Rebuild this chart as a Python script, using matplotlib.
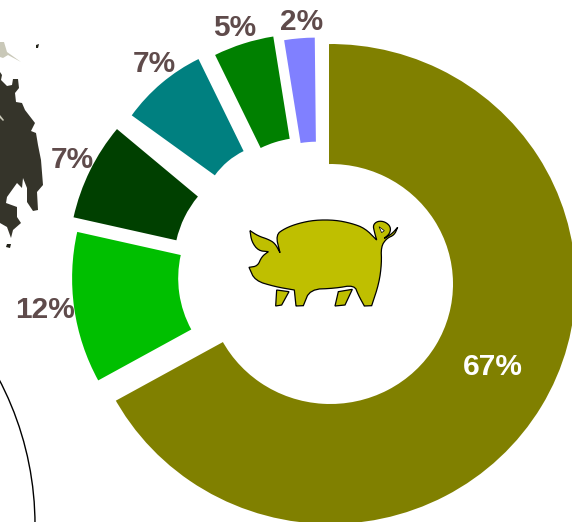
import numpy as np
import matplotlib
matplotlib.use("Agg")
from matplotlib import pyplot as plt
from matplotlib.patches import Wedge, Polygon, Circle
from matplotlib.transforms import Affine2D

# shares, labels as printed on it
shares = [67.03, 11.47, 7.56, 7.8, 4.72, 2.36]
labels = ["67%", "12%", "7%", "7%", "5%", "2%"]
colors = ["#808000", "#00BF00", "#004000", "#008080", "#008000", "#8080FF"]
labelColors = ["#FFFFFF", "#5F4B4B", "#5F4B4B", "#5F4B4B", "#5F4B4B", "#5F4B4B"]
labelPos = [(493, 367), (45, 310), (72, 160), (154, 64), (235, 28), (302, 22)]

W, H = 572, 522
# slice geometry in image pixels, measured per slice since they are not evenly pulled out
apexX = [329, 284.8, 277.5, 277.7, 306, 317]
apexY = [284, 278.3, 262.9, 220.7, 240.5, 245.2]
outerR = [240, 212.7, 209, 180, 206.6, 207.6]
innerR = [120, 106.6, 103.6, 77.5, 103, 103.5]
angleNudge = [0, 0, 0, -4, -4, -4]  # the teal slice overlaps its neighbour's angle in the original
bigCentreX = 330.3  # the big slice is a little wider than tall
bigStretch = 1.0225

# pixel outlines, y measured from the top of the image
island = [(0,72),(2,75),(1,80),(7,86),(12,85),(13,79),(18,79),(19,88),(15,93),(16,102),(22,103),
          (25,110),(35,123),(31,131),(36,133),(38,145),(41,160),(43,185),(37,192),(38,210),(33,211),
          (27,202),(27,188),(23,178),(22,188),(17,183),(7,197),(6,203),(17,207),(17,217),(21,223),
          (13,230),(11,238),(7,227),(0,223)]
pale = [(0,42),(4,42),(7,52),(21,62),(8,55),(3,58),(0,57)]
paleLine = [(0,115),(4,120),(3,121),(0,118)]
specks = [[(36,45),(39,44),(38,48),(36,48)], [(7,244),(11,244),(10,248),(6,247)]]
# doubled points keep a corner after smoothing
pigBody = [(45,62),(45,62),(70,78),(100,88),(120,100),(135,128),(135,128),(122,75),(150,55),(190,40),(240,30),(300,30),
           (350,40),(390,55),(425,90),(425,90),(418,65),(414,45),(428,33),(450,35),(467,50),(465,70),(448,85),(448,85),(470,72),
           (488,52),(488,52),(478,75),(455,85),(438,110),(440,160),(432,220),(410,287),(410,287),(388,288),(388,288),(370,255),
           (358,225),(300,235),(225,238),(205,287),(205,287),(183,288),(183,288),(178,240),(178,240),(120,230),(60,212),(42,172),(42,172),
           (68,168),(80,140),(100,125),(100,125),(70,122),(50,95)]
pigLegs = [[(125,240),(162,245),(140,285),(122,288)], [(310,245),(352,238),(330,285),(300,288)]]
pigHole = [(432,50),(448,62),(440,68)]

def px(pts):
    return [(x, H-y) for x, y in pts]

def pigPx(pts):
    return [(235+x/3, H-(210+y/3)) for x, y in pts]

def smooth(pts, n=2):
    # corner cutting
    p = np.array(pts, float)
    for _ in range(n):
        q = np.roll(p, -1, axis=0)
        p = np.column_stack([0.75*p+0.25*q, 0.25*p+0.75*q]).reshape(-1, 2)
    return p

fig = plt.figure(figsize=(W/100, H/100), dpi=100)
ax = fig.add_axes([0, 0, 1, 1])
ax.set_xlim(0, W)
ax.set_ylim(0, H)
ax.axis("off")

ax.add_patch(Polygon(px(island), closed=True, fc="#35342A", ec="none"))
ax.add_patch(Polygon(px(pale), closed=True, fc="#C9C8B8", ec="none"))
ax.add_patch(Polygon(px(paleLine), closed=True, fc="#C9C8B8", ec="none"))
for s in specks:
    ax.add_patch(Polygon(px(s), closed=True, fc="#222218", ec="none"))
ax.add_patch(Circle((-278, H-525), 313, fc="none", ec="#000000", lw=1))

# clockwise from 12 o'clock
start = 0.0
for i, val in enumerate(shares):
    span = val/100*360
    a0 = start+angleNudge[i]
    t1, t2 = 90-a0-span, 90-a0
    if i == 0:
        w = Wedge((bigCentreX/bigStretch, H-apexY[i]), outerR[i], t1-5, t2+5, width=outerR[i]-innerR[i],
                  fc=colors[i], ec="none", transform=Affine2D().scale(bigStretch, 1)+ax.transData)
        ax.add_artist(w)
        clip = Wedge((apexX[i], H-apexY[i]), 1000, t1, t2, transform=ax.transData)
        w.set_clip_path(clip)
    else:
        ax.add_patch(Wedge((apexX[i], H-apexY[i]), outerR[i], t1, t2, width=outerR[i]-innerR[i], fc=colors[i], ec="none"))
    start += span

for lab, col, (x, y) in zip(labels, labelColors, labelPos):
    ax.text(x, H-y, lab, color=col, fontsize=21.5, fontweight="bold", family="Liberation Sans",
            ha="center", va="center", zorder=5)

ax.add_patch(Polygon(pigPx(smooth(pigBody)), closed=True, fc="#BFBF00", ec="#000000", lw=0.9))
for leg in pigLegs:
    ax.add_patch(Polygon(pigPx(leg), closed=True, fc="#BFBF00", ec="#000000", lw=0.9))
ax.add_patch(Polygon(pigPx(pigHole), closed=True, fc="#FFFFFF", ec="#000000", lw=0.5))

fig.savefig("out.png", dpi=100)
